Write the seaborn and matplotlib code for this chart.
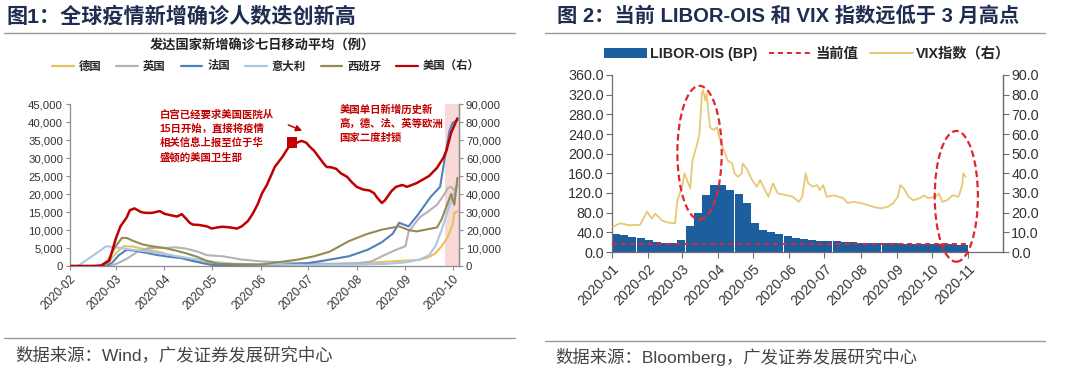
import numpy as np
import pandas as pd
import matplotlib
matplotlib.use("Agg")
import matplotlib.pyplot as plt
import matplotlib.dates as mdates
from matplotlib.patches import Ellipse, Patch
from matplotlib.lines import Line2D
from matplotlib.ticker import FuncFormatter, MultipleLocator
import seaborn as sns

sns.set_theme(style="white")
plt.rcParams['font.family'] = ['Liberation Sans', 'Noto Sans CJK SC', 'DejaVu Sans']
plt.rcParams['axes.unicode_minus'] = False

# ---------------- Figure 1 data (7-day avg new cases) ----------------
us_dates = ["2020-02-01","2020-02-16","2020-02-21","2020-02-26","2020-03-01","2020-03-04","2020-03-08","2020-03-10",
            "2020-03-13","2020-03-17","2020-03-20","2020-03-24","2020-03-29","2020-04-01","2020-04-06","2020-04-09",
            "2020-04-12","2020-04-15","2020-04-17","2020-04-19","2020-04-23","2020-04-28","2020-05-01","2020-05-05",
            "2020-05-08","2020-05-12","2020-05-17","2020-05-20","2020-05-24","2020-05-27","2020-05-30","2020-06-02",
            "2020-06-05","2020-06-07","2020-06-10","2020-06-15","2020-06-18","2020-06-21","2020-06-24","2020-06-27",
            "2020-06-30","2020-07-02","2020-07-05","2020-07-08","2020-07-11","2020-07-13","2020-07-16","2020-07-19",
            "2020-07-22","2020-07-26","2020-07-29","2020-08-01","2020-08-05","2020-08-09","2020-08-12","2020-08-14",
            "2020-08-16","2020-08-17","2020-08-19","2020-08-21","2020-08-23","2020-08-26","2020-08-30","2020-09-02",
            "2020-09-05","2020-09-08","2020-09-12","2020-09-16","2020-09-21","2020-09-25","2020-09-27","2020-09-30",
            "2020-10-02","2020-10-04"]
us_vals = [0,0,300,3000,15000,22000,27000,31000,32000,30000,29500,29500,30500,29000,28000,27500,
           28800,26000,24000,23000,22800,22000,20800,21500,21800,21500,20800,22000,25000,29000,34000,40500,
           45000,49000,55000,60800,65000,68600,68500,69500,68500,66500,64000,60500,57000,55000,54800,54000,
           51500,49500,46500,44000,42500,42000,40500,38000,36000,35000,36500,39000,41500,44000,45000,44000,
           45000,46000,48000,50000,54500,60000,64000,74000,78000,82000]

de_dates = ["2020-02-01","2020-02-20","2020-02-25","2020-03-01","2020-03-06","2020-03-12","2020-03-20","2020-03-28",
            "2020-04-05","2020-04-15","2020-04-25","2020-05-05","2020-05-20","2020-06-10","2020-07-01","2020-07-20",
            "2020-08-05","2020-08-20","2020-09-01","2020-09-10","2020-09-16","2020-09-20","2020-09-24","2020-09-28",
            "2020-10-01","2020-10-02","2020-10-04"]
de_vals = [0,0,800,3500,5500,5400,4600,4000,3000,1800,1000,700,500,400,400,500,800,1200,1500,1700,2500,3500,5500,8200,
           11500,14800,15200]

uk_dates = ["2020-02-01","2020-02-25","2020-03-01","2020-03-08","2020-03-15","2020-03-22","2020-04-01","2020-04-08",
            "2020-04-15","2020-04-22","2020-04-28","2020-05-08","2020-05-20","2020-06-01","2020-06-15","2020-07-01",
            "2020-07-15","2020-08-01","2020-08-10","2020-08-17","2020-08-26","2020-09-01","2020-09-03","2020-09-10",
            "2020-09-15","2020-09-21","2020-09-25","2020-09-28","2020-09-30","2020-10-02","2020-10-04"]
uk_vals = [0,0,500,2000,4000,5000,5000,5200,4800,4000,3000,2700,1800,1300,1000,700,600,800,1200,2700,4500,5500,9500,
           13500,15000,17000,19500,21700,22000,21000,22500]

fr_dates = ["2020-02-01","2020-02-24","2020-02-28","2020-03-03","2020-03-08","2020-03-14","2020-03-20","2020-03-28",
            "2020-04-05","2020-04-12","2020-04-18","2020-04-25","2020-05-01","2020-05-15","2020-06-01","2020-06-13",
            "2020-07-01","2020-07-10","2020-07-27","2020-08-08","2020-08-17","2020-08-24","2020-08-28","2020-09-03",
            "2020-09-09","2020-09-17","2020-09-23","2020-09-26","2020-09-29","2020-10-01","2020-10-04"]
fr_vals = [0,0,1000,3000,4500,4200,3700,3000,2500,2200,1500,800,300,200,200,300,800,1400,2700,4500,6600,9000,12000,
           11000,14300,19200,22000,30000,37600,39800,40500]

it_dates = ["2020-02-01","2020-02-06","2020-02-15","2020-02-24","2020-03-01","2020-03-10","2020-03-22","2020-04-01",
            "2020-04-12","2020-04-22","2020-05-03","2020-05-15","2020-06-01","2020-07-01","2020-08-01","2020-08-20",
            "2020-09-01","2020-09-10","2020-09-16","2020-09-20","2020-09-24","2020-09-28","2020-10-01","2020-10-04"]
it_vals = [0,0,2700,5500,5200,4600,4000,3300,2500,1800,1100,600,400,300,350,600,1000,1800,3000,5500,10000,15500,
           19500,22000]

es_dates = ["2020-02-01","2020-02-20","2020-02-25","2020-03-01","2020-03-05","2020-03-08","2020-03-12","2020-03-18",
            "2020-03-24","2020-04-01","2020-04-08","2020-04-15","2020-04-22","2020-04-28","2020-05-05","2020-05-15",
            "2020-06-01","2020-06-13","2020-06-25","2020-07-05","2020-07-15","2020-07-27","2020-08-07","2020-08-17",
            "2020-08-28","2020-09-03","2020-09-08","2020-09-15","2020-09-21","2020-09-24","2020-09-27","2020-09-30",
            "2020-10-02","2020-10-04"]
es_vals = [0,0,1500,5500,7800,7800,7000,6000,5500,5000,4300,3500,2500,1400,600,500,400,1100,1800,2700,4000,6900,
           8800,10100,11000,10000,9600,10200,10700,13000,16500,20000,17000,24500]

countries = ["德国", "英国", "法国", "意大利", "西班牙", "美国（右）"]
country_colors = ["#E8C15F", "#B3B3B3", "#4F81BD", "#A9C5E8", "#948A54", "#C00000"]
fig1_ticks = ["2020-02","2020-03","2020-04","2020-05","2020-06","2020-07","2020-08","2020-09","2020-10"]
fig1_xlim = ["2020-02-01", "2020-10-05"]
shade_start = "2020-09-26"
marker_date = "2020-06-21"
note1 = "白宫已经要求美国医院从\n15日开始，直接将疫情\n相关信息上报至位于华\n盛顿的美国卫生部"
note2 = "美国单日新增历史新\n高，德、法、英等欧洲\n国家二度封锁"

# ---------------- Figure 2 data ----------------
libor_vals = [37,34,31,28,24,21,19,18,24,52,80,115,136,137,127,118,100,60,45,40,37,32,29,27,25,23,
              22.5,21.5,20.5,19.5,19,18.8,18.5,17.8,17.3,17.2,17,16.8,16.6,16.3,16,15.6,15.2,14.5]
libor_start = "2020-01-01"
libor_end = "2020-11-01"
libor_current = 15.5

vix_dates = ["2020-01-02","2020-01-08","2020-01-16","2020-01-25","2020-01-31","2020-02-04","2020-02-07","2020-02-13",
             "2020-02-18","2020-02-24","2020-02-26","2020-03-01","2020-03-03","2020-03-08","2020-03-10","2020-03-14",
             "2020-03-16","2020-03-18","2020-03-19","2020-03-21","2020-03-22","2020-03-25","2020-03-28","2020-03-31",
             "2020-04-02","2020-04-05","2020-04-09","2020-04-13","2020-04-15","2020-04-18","2020-04-21","2020-04-22",
             "2020-04-26","2020-04-30","2020-05-04","2020-05-07","2020-05-11","2020-05-14","2020-05-18","2020-05-22",
             "2020-05-30","2020-06-04","2020-06-09","2020-06-12","2020-06-15","2020-06-17","2020-06-21","2020-06-25",
             "2020-06-27","2020-06-30","2020-07-03","2020-07-09","2020-07-13","2020-07-17","2020-07-21","2020-07-26",
             "2020-08-01","2020-08-07","2020-08-12","2020-08-18","2020-08-24","2020-08-29","2020-09-02","2020-09-04",
             "2020-09-07","2020-09-11","2020-09-15","2020-09-21","2020-09-24","2020-09-28","2020-10-04","2020-10-07",
             "2020-10-10","2020-10-14","2020-10-19","2020-10-24","2020-10-27","2020-10-28","2020-10-30"]
vix_vals = [12.9,14.6,13.6,13.8,20.5,17,19.5,16,15,14.6,26.3,33,40,32.4,46.6,55,60.4,80.7,82.3,77,80.7,63.4,62,63.4,
            58,53.2,46.6,45,40,38.2,40,45,41.7,36.6,33.2,36.6,31.5,28.1,34.9,29.8,28.8,28.1,25.5,28.1,40.1,35,33.2,34,
            31.5,34,28.1,28.8,28.1,27.4,24.9,25.5,24.9,23.9,22.9,22.2,22.9,24.9,28.1,34,32.4,28.1,26.3,27.4,28.8,27.4,
            28.1,29.8,25.5,26.3,28.8,28.1,34,40,38.2]
fig2_ticks = ["2020-01","2020-02","2020-03","2020-04","2020-05","2020-06","2020-07","2020-08","2020-09","2020-10","2020-11"]
fig2_xlim = ["2020-01-01", "2020-12-01"]
# highlight ellipses: (center date, center VIX-scale value, width days, height VIX-scale)
ellipses = [("2020-03-16", 50.5, 38, 68.0), ("2020-10-22", 28.3, 37, 66.5)]
legend2 = ["LIBOR-OIS (BP)", "当前值", "VIX指数（右）"]
bar_color = "#1C5E9E"
vix_color = "#E8C872"
dash_red = "#E2262F"

# ---------------- layout helpers ----------------
W, H = 1080, 372
fig = plt.figure(figsize=(W / 100, H / 100), dpi=100)
def fx(px): return px / W
def fy(py): return 1 - py / H

title_color = "#1F2D50"
spine_c = "#8C8C8C"
lab_c = "#333333"

# titles, rules, sources
fig.text(fx(7), fy(16), "图1：全球疫情新增确诊人数迭创新高", fontsize=15.2, weight="bold", color=title_color,
         ha="left", va="center")
fig.text(fx(557), fy(16), "图 2：当前 LIBOR-OIS 和 VIX 指数远低于 3 月高点", fontsize=14.6, weight="bold",
         color=title_color, ha="left", va="center")
for (x0, x1) in [(4, 515), (545, 1045)]:
    fig.add_artist(Line2D([fx(x0), fx(x1)], [fy(32.5)] * 2, color="#9A9A9A", lw=1.0))
fig.add_artist(Line2D([fx(4), fx(515)], [fy(338)] * 2, color="#9A9A9A", lw=1.0))
fig.add_artist(Line2D([fx(545), fx(1045)], [fy(341)] * 2, color="#9A9A9A", lw=1.0))
fig.text(fx(15), fy(355), "数据来源：Wind，广发证券发展研究中心", fontsize=12.5, color="#444444", ha="left", va="center")
fig.text(fx(555), fy(357), "数据来源：Bloomberg，广发证券发展研究中心", fontsize=12.5, color="#444444",
         ha="left", va="center")

# ================= Panel 1 =================
ax1 = fig.add_axes([fx(70), fy(266), fx(459) - fx(70), fy(104) - fy(266)])
ax1r = ax1.twinx()

series = [(de_dates, de_vals), (uk_dates, uk_vals), (fr_dates, fr_vals), (it_dates, it_vals), (es_dates, es_vals)]
ax1.axvspan(pd.Timestamp(shade_start), pd.Timestamp(fig1_xlim[1]), color="#F9D8D8", lw=0, zorder=0)
for (d, v), c in zip(series, country_colors[:5]):
    sns.lineplot(x=pd.to_datetime(d), y=v, ax=ax1, color=c, linewidth=1.5, errorbar=None, legend=False)
us_df = pd.DataFrame({"date": pd.to_datetime(us_dates), "val": us_vals})
sns.lineplot(data=us_df, x="date", y="val", ax=ax1r, color=country_colors[5], linewidth=1.8, errorbar=None, legend=False)
mk = us_df[us_df["date"] == pd.Timestamp(marker_date)]
sns.scatterplot(data=mk, x="date", y="val", ax=ax1r, marker="s", s=55, color=country_colors[5], edgecolor="none",
                legend=False, zorder=5)

ax1.set_ylim(0, 45000)
ax1r.set_ylim(0, 90000)
ax1.set_xlim(pd.Timestamp(fig1_xlim[0]), pd.Timestamp(fig1_xlim[1]))
ax1.yaxis.set_major_locator(MultipleLocator(5000))
ax1r.yaxis.set_major_locator(MultipleLocator(10000))
fmt = FuncFormatter(lambda v, p: f"{v:,.0f}")
ax1.yaxis.set_major_formatter(fmt)
ax1r.yaxis.set_major_formatter(fmt)
t1 = pd.to_datetime(fig1_ticks)
ax1.set_xticks(t1)
ax1.set_xticklabels(fig1_ticks, rotation=45, ha="right", rotation_mode="anchor")
for a in (ax1, ax1r):
    a.set_xlabel("")
    a.set_ylabel("")
    a.set_facecolor("none")
    for s in a.spines.values():
        s.set_color(spine_c)
        s.set_linewidth(0.9)
    a.spines["top"].set_visible(False)
ax1r.spines["left"].set_visible(False)
ax1r.spines["bottom"].set_visible(False)
ax1.tick_params(axis="x", bottom=True, direction="out", length=3, width=0.8, color=spine_c, labelsize=8.5,
                labelcolor=lab_c, pad=2)
ax1.tick_params(axis="y", left=True, direction="out", length=3, width=0.8, color=spine_c, labelsize=8.2,
                labelcolor=lab_c, pad=2)
ax1r.tick_params(axis="y", right=True, direction="out", length=3, width=0.8, color=spine_c, labelsize=8.2,
                 labelcolor=lab_c, pad=2)

# annotations
red_txt = "#C00000"
ax1r.text(pd.Timestamp("2020-03-29"), 87000, note1, fontsize=7.5, color=red_txt, weight="bold",
          ha="left", va="top", linespacing=1.45)
ax1r.text(pd.Timestamp("2020-07-21"), 90000, note2, fontsize=7.5, color=red_txt, weight="bold",
          ha="left", va="top", linespacing=1.45)
ax1r.annotate("", xy=(pd.Timestamp("2020-06-29"), 74500), xytext=(pd.Timestamp("2020-06-17"), 79000),
              arrowprops=dict(arrowstyle="-|>", color=red_txt, lw=1.1, mutation_scale=9))

fig.text(fx(262), fy(45), "发达国家新增确诊七日移动平均（例）", fontsize=9.5, weight="bold", color="#222222",
         ha="center", va="center")
h1 = [Line2D([0], [0], color=c, lw=1.6) for c in country_colors]
fig.legend(h1, countries, loc="center", bbox_to_anchor=(fx(266), fy(66)), ncol=6, frameon=False,
           prop={"family": ["Noto Sans CJK SC"], "weight": "bold", "size": 8.2},
           handlelength=1.9, handletextpad=0.45, columnspacing=1.3, borderaxespad=0, borderpad=0)

# ================= Panel 2 =================
ax2 = fig.add_axes([fx(612), fy(252), fx(1003) - fx(612), fy(75) - fy(252)])
ax2r = ax2.twinx()

edges = pd.date_range(libor_start, periods=len(libor_vals), freq="7D")
edge_num = mdates.date2num(edges)
widths = np.diff(np.append(edge_num, mdates.date2num(pd.Timestamp(libor_end))))
ax2.bar(edge_num, libor_vals, width=widths * 0.985, align="edge", color=bar_color, linewidth=0, zorder=2)
ax2.plot([edges[0], pd.Timestamp(libor_end)], [libor_current, libor_current], color=dash_red, lw=1.4,
         linestyle=(0, (2.6, 2.0)), zorder=3)

vix_df = pd.DataFrame({"date": pd.to_datetime(vix_dates), "vix": vix_vals})
sns.lineplot(data=vix_df, x="date", y="vix", ax=ax2r, color=vix_color, linewidth=1.3, errorbar=None, legend=False)

for (d, cy, wd, ht) in ellipses:
    e = Ellipse((mdates.date2num(pd.Timestamp(d)), cy), width=wd, height=ht, fill=False, edgecolor=dash_red,
                lw=1.6, linestyle=(0, (3, 1.6)), clip_on=False, zorder=6)
    ax2r.add_patch(e)

ax2.set_ylim(0, 360)
ax2r.set_ylim(0, 90)
ax2.set_xlim(pd.Timestamp(fig2_xlim[0]), pd.Timestamp(fig2_xlim[1]))
ax2.yaxis.set_major_locator(MultipleLocator(40))
ax2r.yaxis.set_major_locator(MultipleLocator(10))
ax2.yaxis.set_major_formatter(FuncFormatter(lambda v, p: f"{v:.1f}"))
ax2r.yaxis.set_major_formatter(FuncFormatter(lambda v, p: f"{v:.1f}"))
t2 = pd.to_datetime(fig2_ticks)
ax2.set_xticks(t2)
ax2.set_xticklabels(fig2_ticks, rotation=45, ha="right", rotation_mode="anchor")
for a in (ax2, ax2r):
    a.set_xlabel("")
    a.set_ylabel("")
    a.set_facecolor("none")
    for s in a.spines.values():
        s.set_color("#6E6E6E")
        s.set_linewidth(0.9)
    a.spines["top"].set_visible(False)
ax2r.spines["left"].set_visible(False)
ax2r.spines["bottom"].set_visible(False)
ax2.tick_params(axis="x", bottom=True, direction="out", length=4, width=0.8, color="#6E6E6E", labelsize=10,
                labelcolor=lab_c, pad=3)
ax2.tick_params(axis="y", left=True, direction="out", length=4, width=0.8, color="#6E6E6E", labelsize=10.3,
                labelcolor=lab_c, pad=2)
ax2r.tick_params(axis="y", right=True, direction="out", length=4, width=0.8, color="#6E6E6E", labelsize=10.3,
                 labelcolor=lab_c, pad=2)

h2 = [Patch(facecolor=bar_color, edgecolor="none"),
      Line2D([0], [0], color=dash_red, lw=1.4, linestyle=(0, (2.6, 2.0))),
      Line2D([0], [0], color=vix_color, lw=1.4)]
fig.legend(h2, legend2, loc="center", bbox_to_anchor=(fx(807), fy(54)), ncol=3, frameon=False,
           prop={"family": ["Liberation Sans", "Noto Sans CJK SC"], "weight": "bold", "size": 10.3},
           handlelength=3.0, handletextpad=0.25, columnspacing=0.8, borderaxespad=0, borderpad=0)

fig.savefig("out.png", dpi=100)
